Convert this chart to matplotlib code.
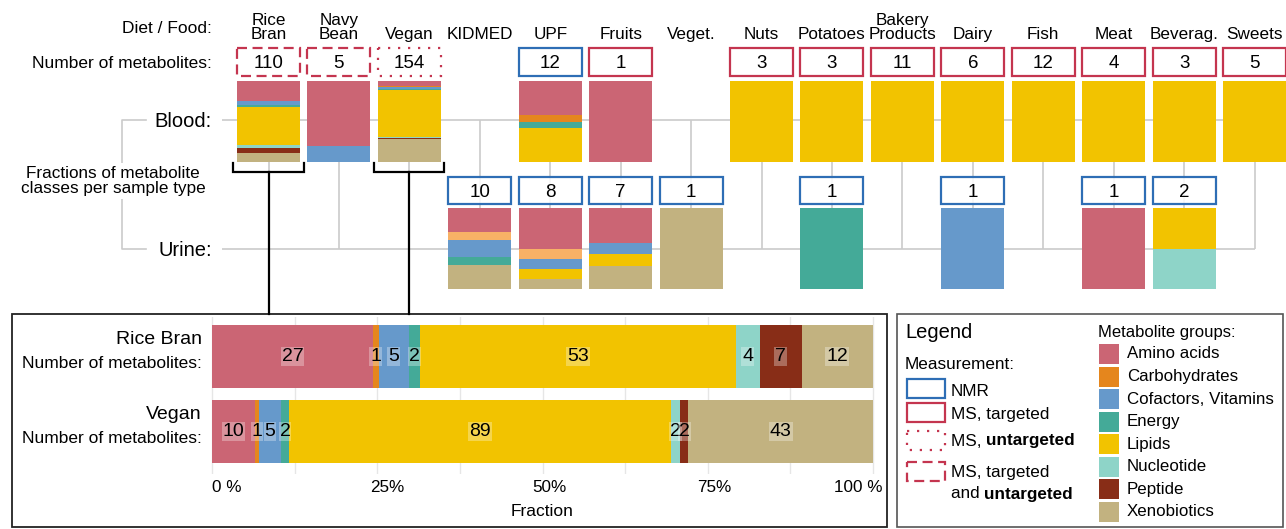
import numpy as np
import matplotlib
matplotlib.use("Agg")
import matplotlib.pyplot as plt
from matplotlib.patches import Rectangle
from matplotlib.transforms import ScaledTranslation

plt.rcParams["font.family"] = ["Liberation Sans", "DejaVu Sans"]

# ---------------------------------------------------------------- data
diets = ["Rice\nBran", "Navy\nBean", "Vegan", "KIDMED", "UPF", "Fruits", "Veget.",
         "Nuts", "Potatoes", "Bakery\nProducts", "Dairy", "Fish", "Meat",
         "Beverag.", "Sweets"]

classes = ["Amino acids", "Carbohydrates", "Cofactors, Vitamins", "Energy",
           "Lipids", "Nucleotide", "Peptide", "Xenobiotics"]
class_colors = ["#CB6574", "#E5861D", "#6699CB", "#44AA98",
                "#F2C300", "#8ED4C8", "#882D17", "#C2B280"]
urine_carb_color = "#F8B166"

# metabolites per class (order of `classes`); None = sample type not studied
blood_counts = [
    [27, 1, 5, 2, 53, 4, 7, 12],   # Rice Bran
    [4, 0, 1, 0, 0, 0, 0, 0],      # Navy Bean
    [10, 1, 5, 2, 89, 2, 2, 43],   # Vegan
    None,                          # KIDMED
    [5, 1, 0, 1, 5, 0, 0, 0],      # UPF
    [1, 0, 0, 0, 0, 0, 0, 0],      # Fruits
    None,                          # Veget.
    [0, 0, 0, 0, 3, 0, 0, 0],      # Nuts
    [0, 0, 0, 0, 3, 0, 0, 0],      # Potatoes
    [0, 0, 0, 0, 11, 0, 0, 0],     # Bakery Products
    [0, 0, 0, 0, 6, 0, 0, 0],      # Dairy
    [0, 0, 0, 0, 12, 0, 0, 0],     # Fish
    [0, 0, 0, 0, 4, 0, 0, 0],      # Meat
    [0, 0, 0, 0, 3, 0, 0, 0],      # Beverages
    [0, 0, 0, 0, 5, 0, 0, 0],      # Sweets
]
urine_counts = [
    None, None, None,
    [3, 1, 2, 1, 0, 0, 0, 3],      # KIDMED
    [4, 1, 1, 0, 1, 0, 0, 1],      # UPF
    [3, 0, 1, 0, 1, 0, 0, 2],      # Fruits
    [0, 0, 0, 0, 0, 0, 0, 1],      # Veget.
    None,
    [0, 0, 0, 1, 0, 0, 0, 0],      # Potatoes
    None,
    [0, 0, 1, 0, 0, 0, 0, 0],      # Dairy
    None,
    [1, 0, 0, 0, 0, 0, 0, 0],      # Meat
    [0, 0, 0, 0, 1, 1, 0, 0],      # Beverages
    None,
]
blood_n = [110, 5, 154, None, 12, 1, None, 3, 3, 11, 6, 12, 4, 3, 5]
urine_n = [None, None, None, 10, 8, 7, 1, None, 1, None, 1, None, 1, 2, None]
blood_method = ["ms_both", "ms_both", "ms_untargeted", None, "nmr", "ms_targeted", None,
                "ms_targeted", "ms_targeted", "ms_targeted", "ms_targeted", "ms_targeted",
                "ms_targeted", "ms_targeted", "ms_targeted"]
urine_method = ["nmr" if n is not None else None for n in urine_n]

detail_names = ["Rice Bran", "Vegan"]
detail_columns = [0, 2]
rice_bran_counts = [27, 1, 5, 2, 53, 4, 7, 12]
vegan_counts = [10, 1, 5, 2, 89, 2, 2, 43]

frac_ticks = [0, 0.25, 0.5, 0.75, 1.0]
frac_tick_labels = ["0 %", "25%", "50%", "75%", "100 %"]

# ---------------------------------------------------------------- styles
NMR_COLOR = "#2E6EB5"
MS_COLOR = "#C4354F"
GRID = "#CBCBCB"
method_style = {
    "nmr": (NMR_COLOR, "solid"),
    "ms_targeted": (MS_COLOR, "solid"),
    "ms_untargeted": (MS_COLOR, (0, (1, 3.5))),
    "ms_both": (MS_COLOR, (0, (4.5, 2.5))),
}
method_labels = [("nmr", ["NMR"]), ("ms_targeted", ["MS, targeted"]),
                 ("ms_untargeted", ["MS, ", "untargeted"]),
                 ("ms_both", ["MS, targeted", "and ", "untargeted"])]

# ---------------------------------------------------------------- layout (pixels)
W, H = 1286, 529
COL0, STEP = 268.5, 70.43
BOX_W = 63 / STEP
BLOOD_BOX, BLOOD_BAR, BLOOD_LINE = (48, 76), (81, 162), 120
URINE_BOX, URINE_BAR, URINE_LINE = (177, 204), (208, 289), 249
DETAIL_TOP = 314

fig = plt.figure(figsize=(W / 100, H / 100), dpi=100)

canvas = fig.add_axes([0, 0, 1, 1])
canvas.set_xlim(0, W)
canvas.set_ylim(H, 0)
canvas.axis("off")

top = fig.add_axes([0, 0, 1, 1])
top.set_xlim(-COL0 / STEP, (W - COL0) / STEP)
top.set_ylim(H, 0)
top.axis("off")

n_cols = len(diets)
cols = np.arange(n_cols)

# connecting grid of the overview
top.vlines(cols, BLOOD_LINE, URINE_LINE, color=GRID, lw=1.2, zorder=1)
top.hlines([BLOOD_LINE, URINE_LINE], (222 - COL0) / STEP, n_cols - 1,
           color=GRID, lw=1.2, zorder=1)
canvas.plot([146, 122, 122, 146], [BLOOD_LINE, BLOOD_LINE, URINE_LINE, URINE_LINE],
            color=GRID, lw=1.2, zorder=1)


def draw_stack(counts_list, span, colors):
    y0, y1 = span
    h = y1 - y0
    for i, counts in enumerate(counts_list):
        if counts is None:
            continue
        c = np.asarray(counts, float)
        frac = c / c.sum()
        starts = y0 + (np.cumsum(frac) - frac) * h
        top.bar(np.full(len(c), i), frac * h, bottom=starts, width=BOX_W,
                color=colors, linewidth=0, zorder=2)


def draw_boxes(ns, methods, span):
    y0, y1 = span
    for i, (n, m) in enumerate(zip(ns, methods)):
        if n is None:
            continue
        color, ls = method_style[m]
        top.add_patch(Rectangle((i - BOX_W / 2, y0), BOX_W, y1 - y0,
                                facecolor=(1, 1, 1, 0.85), edgecolor=color,
                                lw=1.6, linestyle=ls, zorder=3))
        top.text(i, (y0 + y1) / 2 + 6.5, str(n), ha="center", va="baseline",
                 fontsize=13.5, zorder=4)


draw_stack(blood_counts, BLOOD_BAR, class_colors)
urine_colors = list(class_colors)
urine_colors[1] = urine_carb_color
draw_stack(urine_counts, URINE_BAR, urine_colors)
draw_boxes(blood_n, blood_method, BLOOD_BOX)
draw_boxes(urine_n, urine_method, URINE_BOX)

# column headers
for i, name in enumerate(diets):
    top.text(i, 39, name, ha="center", va="baseline", fontsize=12.3,
             linespacing=0.95)

# row headers
canvas.text(212, 33, "Diet / Food:", ha="right", va="baseline", fontsize=12.5)
canvas.text(212, 68, "Number of metabolites:", ha="right", va="baseline", fontsize=12.5)
canvas.text(212, 127, "Blood:", ha="right", va="baseline", fontsize=14.5)
canvas.text(212, 256, "Urine:", ha="right", va="baseline", fontsize=14.5)
for txt, y in [("Fractions of metabolite", 178), ("classes per sample type", 193)]:
    canvas.text(113, y, txt, ha="center", va="baseline", fontsize=12.3, zorder=3,
                bbox=dict(boxstyle="square,pad=0.15", fc="white", ec="none"))

# brackets linking the overview to the detail panel
for i in detail_columns:
    hw = BOX_W / 2 + 0.05
    top.plot([i - hw, i - hw, i + hw, i + hw], [163, 172, 172, 163],
             color="black", lw=1.6, zorder=3, solid_joinstyle="miter")
    top.plot([i, i], [172, DETAIL_TOP], color="black", lw=1.6, zorder=3)

# panel frames
canvas.add_patch(Rectangle((12, DETAIL_TOP), 875, 213, fill=False,
                           edgecolor="#222222", lw=1.3, zorder=2))
canvas.add_patch(Rectangle((897, DETAIL_TOP), 386, 213, fill=False,
                           edgecolor="#555555", lw=1.2, zorder=2))

# ---------------------------------------------------------------- detail panel
ax = fig.add_axes([205 / W, (H - 474) / H, (880 - 205) / W, (474 - 317) / H])
ax.set_xlim(-7 / 661, 1 + 7 / 661)
ax.set_ylim(1 + (474 - 431.5) / 75, -(356.5 - 317) / 75)
ax.patch.set_alpha(0)

for r, counts in enumerate([rice_bran_counts, vegan_counts]):
    c = np.asarray(counts, float)
    frac = c / c.sum()
    left = np.cumsum(frac) - frac
    ax.barh(np.full(len(c), r), frac, left=left, height=0.84,
            color=class_colors, linewidth=0, zorder=2)
    for v, l, f in zip(c, left, frac):
        if v > 0:
            ax.text(l + f / 2, r, f"{int(v)}", ha="center", va="center",
                    fontsize=14, zorder=3,
                    bbox=dict(boxstyle="square,pad=0.05", fc="white",
                              alpha=0.3, ec="none"))

for r, name in enumerate(detail_names):
    ax.annotate(name, xy=(0, r), xytext=(-10, 12.5), textcoords="offset pixels",
                ha="right", va="baseline", fontsize=14)
    ax.annotate("Number of metabolites:", xy=(0, r), xytext=(-10, -11.5),
                textcoords="offset pixels", ha="right", va="baseline", fontsize=12.5)

ax.set_xticks(frac_ticks)
ax.set_xticks([0.125, 0.375, 0.625, 0.875], minor=True)
ax.set_xticklabels(frac_tick_labels)
ax.set_yticks([])
ax.grid(axis="x", which="both", color="#E6E6E6", lw=1.0)
ax.set_axisbelow(True)
ax.tick_params(axis="x", which="both", length=0, labelsize=12.3, pad=4)
for s in ax.spines.values():
    s.set_visible(False)
aligns = ["left", "center", "center", "center", "right"]
shifts = [0, 10, 7, 7, 10]
for lbl, ha, dx in zip(ax.get_xticklabels(), aligns, shifts):
    lbl.set_ha(ha)
    lbl.set_transform(lbl.get_transform() + ScaledTranslation(dx / 100, 0, fig.dpi_scale_trans))
ax.set_xlabel("Fraction", fontsize=12.5, labelpad=7)

# ---------------------------------------------------------------- legend
canvas.text(905, 338, "Legend", ha="left", va="baseline", fontsize=14.5)
canvas.text(905, 369, "Measurement:", ha="left", va="baseline", fontsize=12.3)
legend_rows = [(379, 398, 391), (403, 422, 414), (431, 450, 441), (462, 481, 472)]
for (key, parts), (y0, y1, yc) in zip(method_labels, legend_rows):
    color, ls = method_style[key]
    canvas.add_patch(Rectangle((907, y0), 38, y1 - y0, fill=False,
                               edgecolor=color, lw=1.6, linestyle=ls))
    if key == "ms_both":
        canvas.text(951, yc, parts[0], ha="left", va="center", fontsize=12.3)
        first = canvas.text(951, yc + 22, parts[1], ha="left", va="center", fontsize=12.3)
        canvas.annotate(parts[2], xy=(1, 0), xycoords=first, ha="left", va="bottom",
                        fontsize=12.3, fontweight="bold")
    elif len(parts) == 2:
        first = canvas.text(951, yc, parts[0], ha="left", va="center", fontsize=12.3)
        canvas.annotate(parts[1], xy=(1, 0), xycoords=first, ha="left", va="bottom",
                        fontsize=12.3, fontweight="bold")
    else:
        canvas.text(951, yc, parts[0], ha="left", va="center", fontsize=12.3)

canvas.text(1098, 333, "Metabolite groups:", ha="left", va="center", fontsize=12)
for k, (name, col) in enumerate(zip(classes, class_colors)):
    y0 = 344 + k * 22.57
    canvas.add_patch(Rectangle((1099, y0), 20, 20, facecolor=col, edgecolor="none"))
    canvas.text(1127, y0 + 10, name, ha="left", va="center", fontsize=12.2)

fig.savefig("out.png", dpi=100)
